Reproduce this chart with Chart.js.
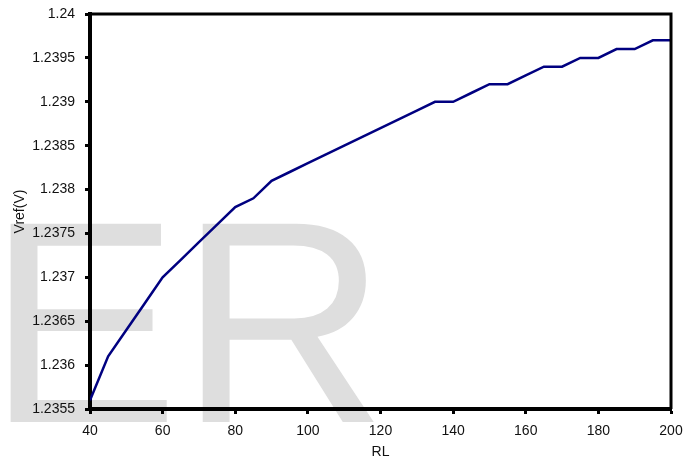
<!DOCTYPE html>
<html>
<head>
<meta charset="utf-8">
<script src="https://cdn.jsdelivr.net/npm/chart.js@4/dist/chart.umd.min.js"></script>
<style>
  html, body { margin: 0; padding: 0; background: #fff; }
  canvas { display: block; }
</style>
</head>
<body>
<canvas id="c" width="695" height="459"></canvas>
<script>
// Load resistance RL and the measured reference voltage
const rl = [40, 45, 50, 55, 60, 65, 70, 75, 80, 85, 90, 95, 100, 105, 110, 115, 120,
            125, 130, 135, 140, 145, 150, 155, 160, 165, 170, 175, 180, 185, 190, 195, 200];
const vref = [1.2356, 1.2361, 1.2364, 1.2367, 1.2370, 1.2372, 1.2374, 1.2376, 1.2378,
              1.2379, 1.2381, 1.2382, 1.2383, 1.2384, 1.2385, 1.2386, 1.2387, 1.2388,
              1.2389, 1.2390, 1.2390, 1.2391, 1.2392, 1.2392, 1.2393, 1.2394, 1.2394,
              1.2395, 1.2395, 1.2396, 1.2396, 1.2397, 1.2397];

// Axis ticks
const xTicks = [40, 60, 80, 100, 120, 140, 160, 180, 200];
const yTicks = [1.2355, 1.236, 1.2365, 1.237, 1.2375, 1.238, 1.2385, 1.239, 1.2395, 1.24];
const yTickLabels = ['1.2355', '1.236', '1.2365', '1.237', '1.2375', '1.238', '1.2385', '1.239', '1.2395', '1.24'];

const xTitle = 'RL';
const yTitle = 'Vref(V)';
const watermark = 'ER';

const FONT = '"Liberation Sans", Arial, Helvetica, sans-serif';

// White page with the large grey lettering behind everything
const backdrop = {
  id: 'backdrop',
  beforeDraw(chart) {
    const ctx = chart.ctx;
    ctx.save();
    ctx.fillStyle = '#fff';
    ctx.fillRect(0, 0, chart.width, chart.height);
    ctx.fillStyle = '#dedede';
    ctx.font = '288px ' + FONT;
    ctx.textAlign = 'left';
    ctx.textBaseline = 'alphabetic';
    ctx.fillText(watermark, -13, 422);
    ctx.restore();
  }
};

// Top and right edges of the plot box
const frame = {
  id: 'frame',
  afterDraw(chart) {
    const { left, top, right, bottom } = chart.chartArea;
    const ctx = chart.ctx;
    ctx.save();
    ctx.strokeStyle = '#000';
    ctx.lineWidth = 3;
    ctx.beginPath();
    ctx.moveTo(left, top);
    ctx.lineTo(right, top);
    ctx.lineTo(right, bottom);
    ctx.stroke();
    ctx.restore();
  }
};

new Chart(document.getElementById('c'), {
  type: 'line',
  data: {
    datasets: [{
      data: rl.map((x, i) => ({ x: x, y: vref[i] })),
      borderColor: '#000080',
      borderWidth: 2.5,
      pointRadius: 0,
      tension: 0,
      fill: false
    }]
  },
  options: {
    responsive: false,
    animation: false,
    layout: { padding: { left: 0, top: 14, right: 24, bottom: 0 } },
    plugins: { legend: { display: false }, tooltip: { enabled: false } },
    scales: {
      x: {
        type: 'linear',
        min: 40,
        max: 200,
        afterBuildTicks(scale) { scale.ticks = xTicks.map(v => ({ value: v })); },
        afterFit(scale) { scale.height = 50; },
        border: { display: true, color: '#000', width: 4 },
        grid: { drawOnChartArea: false, drawTicks: true, tickLength: 5, tickWidth: 3, tickColor: '#000' },
        ticks: {
          padding: 9,
          color: '#111',
          font: { family: FONT, size: 14 },
          maxRotation: 0,
          callback: (v) => String(v)
        },
        title: {
          display: true,
          text: xTitle,
          color: '#111',
          font: { family: FONT, size: 14, lineHeight: 1 },
          padding: { top: 0, bottom: 0 }
        }
      },
      y: {
        type: 'linear',
        min: 1.2355,
        max: 1.24,
        afterBuildTicks(scale) { scale.ticks = yTicks.map(v => ({ value: v })); },
        afterFit(scale) {
          scale.width = 90;
          scale.paddingTop = 0;
          scale.paddingBottom = 0;
        },
        border: { display: true, color: '#000', width: 4 },
        grid: { drawOnChartArea: false, drawTicks: true, tickLength: 5, tickWidth: 3, tickColor: '#000' },
        ticks: {
          padding: 10,
          color: '#111',
          font: { family: FONT, size: 14 },
          callback: (v, i) => yTickLabels[i]
        },
        title: {
          display: true,
          text: yTitle,
          color: '#111',
          font: { family: FONT, size: 14 },
          padding: { top: 12, bottom: 0 }
        }
      }
    }
  },
  plugins: [backdrop, frame]
});
</script>
</body>
</html>
